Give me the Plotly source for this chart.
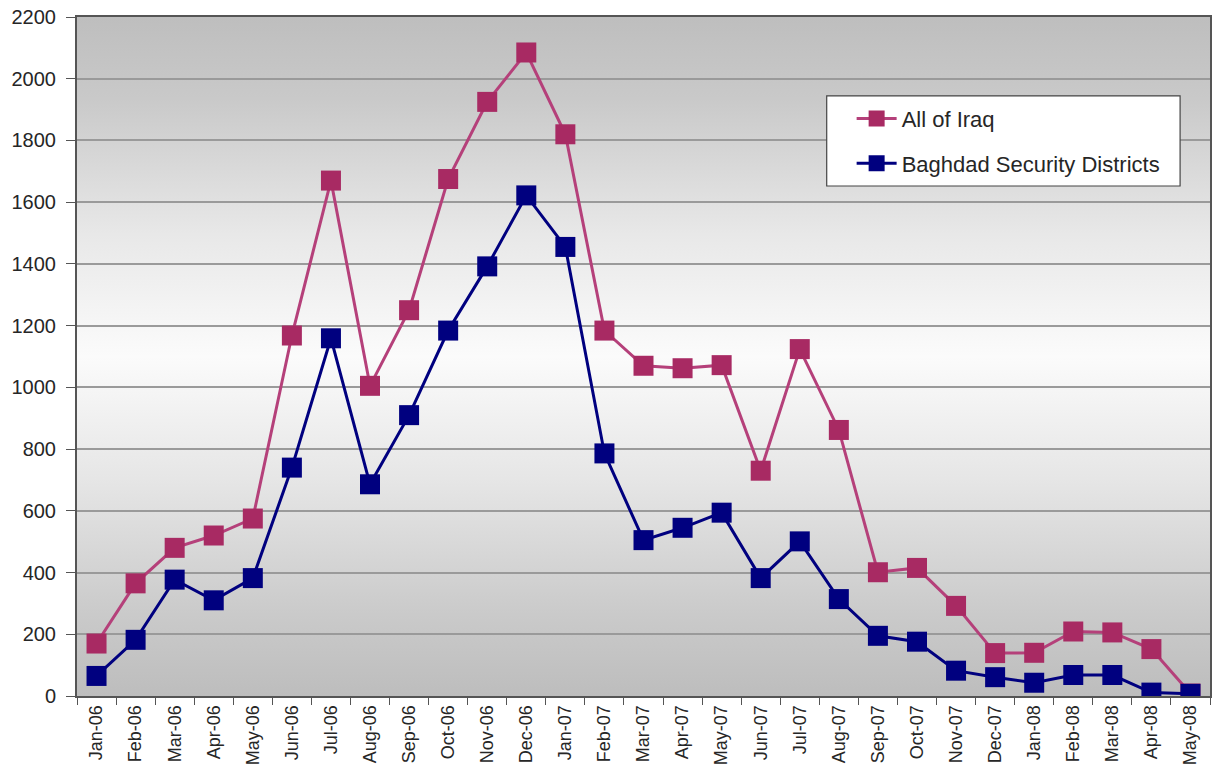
import base64
import plotly.graph_objects as go

# Monthly totals, Jan 2006 - May 2008
months = ["Jan-06", "Feb-06", "Mar-06", "Apr-06", "May-06", "Jun-06", "Jul-06",
          "Aug-06", "Sep-06", "Oct-06", "Nov-06", "Dec-06", "Jan-07", "Feb-07",
          "Mar-07", "Apr-07", "May-07", "Jun-07", "Jul-07", "Aug-07", "Sep-07",
          "Oct-07", "Nov-07", "Dec-07", "Jan-08", "Feb-08", "Mar-08", "Apr-08",
          "May-08"]

all_of_iraq = [170, 365, 480, 520, 575, 1168, 1670, 1005, 1250, 1675, 1925, 2085,
               1820, 1184, 1070, 1062, 1072, 730, 1124, 862, 401, 415, 292, 139,
               140, 209, 206, 152, 8]

baghdad = [65, 182, 377, 310, 382, 740, 1159, 686, 910, 1184, 1392, 1622, 1455,
           786, 505, 545, 594, 382, 501, 314, 195, 176, 82, 61, 43, 68, 68, 11, 7]

y_ticks = list(range(0, 2201, 200))

MAGENTA_LINE = "#b5407a"
MAGENTA_MARK = "#a82a63"
NAVY = "#00007f"
FONT = "Liberation Sans, Arial, sans-serif"
TEXT = "#262626"

# Vertical grey gradient for the plotting area (dark at top/bottom, light in the middle)
svg = """<svg xmlns='http://www.w3.org/2000/svg' width='1135' height='679' preserveAspectRatio='none' viewBox='0 0 1135 679'>
<defs><linearGradient id='g' x1='0' y1='0' x2='0' y2='1'>
<stop offset='0' stop-color='#bebebe'/>
<stop offset='0.12' stop-color='#c9c9c9'/>
<stop offset='0.32' stop-color='#e8e8e8'/>
<stop offset='0.5' stop-color='#fbfbfb'/>
<stop offset='0.68' stop-color='#e6e6e6'/>
<stop offset='0.88' stop-color='#cacaca'/>
<stop offset='1' stop-color='#bdbdbd'/>
</linearGradient></defs>
<rect width='1135' height='679' fill='url(#g)'/></svg>"""
bg_uri = "data:image/svg+xml;base64," + base64.b64encode(svg.encode()).decode()

fig = go.Figure()
fig.add_trace(go.Scatter(
    x=months, y=all_of_iraq, name="All of Iraq", mode="lines+markers",
    line=dict(color=MAGENTA_LINE, width=3),
    marker=dict(symbol="square", size=20, color=MAGENTA_MARK),
    legendgroup="a",
))
fig.add_trace(go.Scatter(
    x=months, y=baghdad, name="Baghdad Security Districts", mode="lines+markers",
    line=dict(color=NAVY, width=3),
    marker=dict(symbol="square", size=20, color=NAVY),
    legendgroup="b",
))

fig.update_layout(
    width=1214, height=782,
    margin=dict(l=77, r=2, t=17, b=86),
    paper_bgcolor="white",
    plot_bgcolor="rgba(0,0,0,0)",
    font=dict(family=FONT, size=20, color=TEXT),
    showlegend=True,
    legend=dict(
        x=0.6837, y=0.881, xanchor="left", yanchor="top",
        bgcolor="rgba(0,0,0,0)", borderwidth=0,
        font=dict(family=FONT, size=22, color=TEXT),
        tracegroupgap=13, itemwidth=40,
    ),
    shapes=[dict(
        type="rect", xref="paper", yref="paper",
        x0=0.6617, x1=0.9736, y0=0.7511, y1=0.8837,
        fillcolor="white", line=dict(color="#444444", width=1.2), layer="above",
    )],
    images=[dict(
        source=bg_uri, xref="paper", yref="paper", x=0, y=1,
        sizex=1, sizey=1, sizing="stretch", layer="below",
        xanchor="left", yanchor="top",
    )],
)

fig.update_xaxes(
    type="category", categoryorder="array", categoryarray=months,
    range=[-0.5, len(months) - 0.5],
    tickangle=-90, tickfont=dict(size=18, family=FONT, color=TEXT),
    tickson="boundaries", ticks="outside", ticklen=7, tickcolor="#555555",
    showgrid=False, showline=True, linecolor="#555555", linewidth=2, mirror=True,
    zeroline=False,
)
fig.update_yaxes(
    range=[0, 2200], tickvals=y_ticks, ticktext=[str(v) for v in y_ticks],
    tickfont=dict(size=20, family=FONT, color=TEXT),
    ticks="outside", ticklen=9, tickcolor="#555555", ticklabelstandoff=6,
    showgrid=True, gridcolor="#9a9a9a", gridwidth=1.5,
    showline=True, linecolor="#555555", linewidth=2, mirror=True,
    zeroline=False,
)

fig.write_html("out.html")
